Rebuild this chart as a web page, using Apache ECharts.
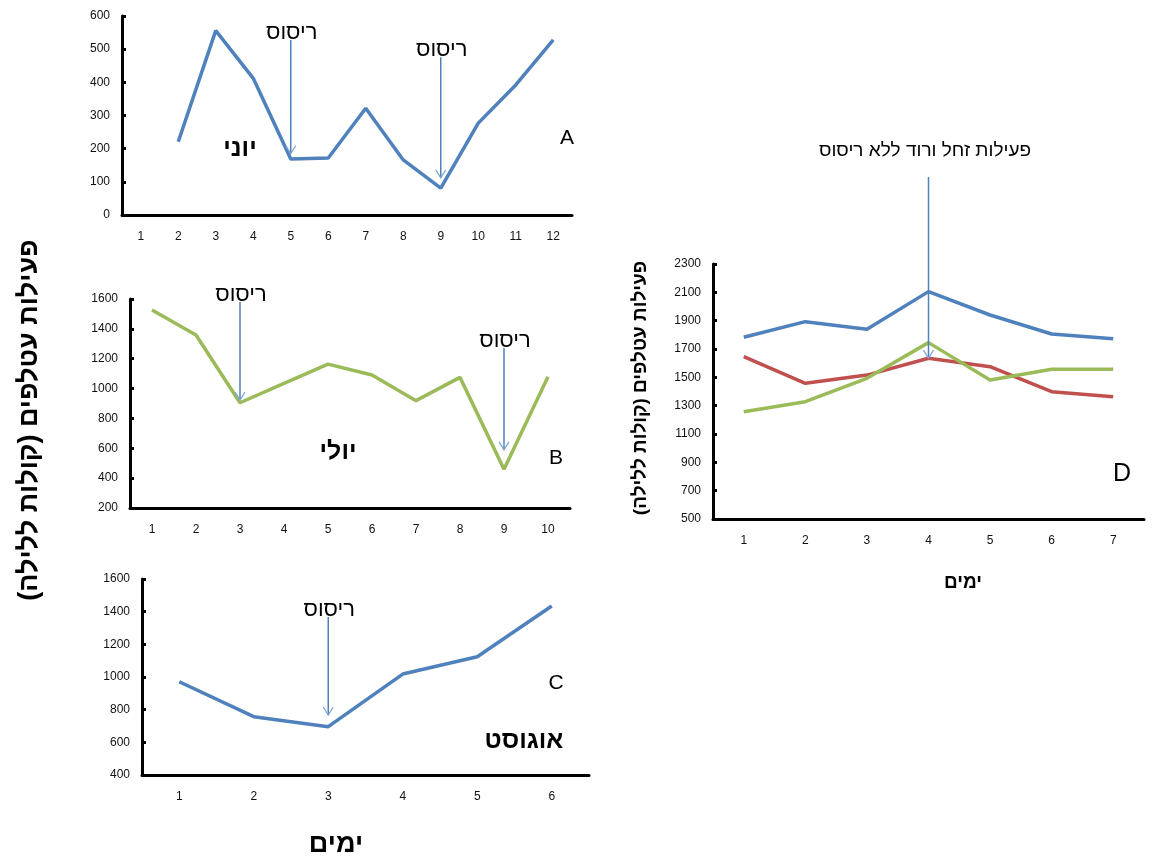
<!DOCTYPE html>
<html><head><meta charset="utf-8">
<script src="https://cdn.jsdelivr.net/npm/echarts@6/dist/echarts.min.js"></script>
<style>html,body{margin:0;padding:0;background:#fff}#c{width:1171px;height:858px}</style>
</head><body><div id="c"></div><script>
// ---- data ----
const daysA = ['1','2','3','4','5','6','7','8','9','10','11','12'];
const juneA = [null,221,556,412,169,172,322,166,81,277,392,528];
const yTicksA = [0,100,200,300,400,500,600];

const daysB = ['1','2','3','4','5','6','7','8','9','10'];
const julyB = [1526,1359,905,1035,1164,1091,919,1075,459,1079];
const yTicksB = [200,400,600,800,1000,1200,1400,1600];

const daysC = ['1','2','3','4','5','6'];
const augC = [971,757,696,1018,1124,1435];
const yTicksC = [400,600,800,1000,1200,1400,1600];

const daysD = ['1','2','3','4','5','6','7'];
const dBlue = [1783,1893,1839,2105,1940,1806,1773];
const dRed = [1646,1458,1516,1635,1575,1399,1363];
const dGreen = [1257,1328,1493,1745,1481,1557,1557];
const yTicksD = [500,700,900,1100,1300,1500,1700,1900,2100,2300];

// spraying arrows: grid index, category, value at top, value at tip
const sprayArrows = [
  {g:0, cat:'5', from:528, to:185},
  {g:0, cat:'9', from:476, to:112},
  {g:1, cat:'3', from:1580, to:923},
  {g:1, cat:'9', from:1272, to:589},
  {g:2, cat:'3', from:1367, to:767},
  {g:3, cat:'4', from:2914, to:1636}
];

const FONT = '"Liberation Sans", Arial, "DejaVu Sans", sans-serif';
const RLM = '\u200F';
const blue = '#4F81BD', red = '#C0504D', green = '#9BBB59';

const grids = [
  {left:122, top:16, width:450, height:199},
  {left:130, top:299, width:440, height:209},
  {left:142, top:579, width:447, height:196},
  {left:713, top:264, width:431, height:255}
];
const cats = [daysA, daysB, daysC, daysD];
const yt = [yTicksA, yTicksB, yTicksC, yTicksD];

function xAx(i){
  return {type:'category', gridIndex:i, data:cats[i], boundaryGap:true,
    axisLine:{lineStyle:{color:'#000', width:3}},
    axisTick:{alignWithLabel:true, inside:true, length:4, lineStyle:{color:'#000', width:3}},
    axisLabel:{margin:16, color:'#111', fontSize:12, fontFamily:FONT}};
}
function yAx(i){
  const t = yt[i];
  return {type:'value', gridIndex:i, min:t[0], max:t[t.length-1], interval:t[1]-t[0],
    axisLine:{show:true, lineStyle:{color:'#000', width:3}},
    axisTick:{show:true, inside:true, length:4, lineStyle:{color:'#000', width:3}},
    splitLine:{show:false},
    axisLabel:{margin:12, color:'#111', fontSize:12, fontFamily:FONT, formatter: v => String(v)}};
}
function ser(i, data, color){
  return {type:'line', xAxisIndex:i, yAxisIndex:i, data:data, symbol:'none',
    lineStyle:{color:color, width:3.5}, itemStyle:{color:color}, connectNulls:false, silent:true, animation:false};
}

const chart = echarts.init(document.getElementById('c'), null, {renderer:'canvas'});
chart.setOption({
  animation:false,
  backgroundColor:'#fff',
  grid: grids,
  xAxis: [0,1,2,3].map(xAx),
  yAxis: [0,1,2,3].map(yAx),
  series: [
    ser(0, juneA, blue),
    ser(1, julyB, green),
    ser(2, augC, blue),
    ser(3, dBlue, blue),
    ser(3, dRed, red),
    ser(3, dGreen, green)
  ]
});

function txt(text, x, y, size, opts){
  opts = opts || {};
  return {type:'text', x:x, y:y, rotation:opts.rot||0, z:10,
    style:{text:text, font:(opts.bold?'bold ':'')+size+'px '+FONT, fill:'#000',
      align:'center', verticalAlign:'middle'}};
}

const g = [];
sprayArrows.forEach(a => {
  const p1 = chart.convertToPixel({gridIndex:a.g}, [a.cat, a.from]);
  const p2 = chart.convertToPixel({gridIndex:a.g}, [a.cat, a.to]);
  const x = p1[0];
  g.push({type:'line', z:9, shape:{x1:x, y1:p1[1], x2:x, y2:p2[1]}, style:{stroke:blue, lineWidth:1.5}});
  g.push({type:'polyline', z:9, shape:{points:[[x-5,p2[1]-8],[x,p2[1]],[x+5,p2[1]-8]]}, style:{stroke:'#7FA3D4', lineWidth:1.2, fill:null}});
  if (a.g !== 3) g.push(txt('ריסוס', x+1, p1[1]-7, 22));
});

g.push(txt('יוני', 240, 149, 25, {bold:true}));
g.push(txt('A', 567, 138, 21));
g.push(txt('יולי', 338, 452, 25, {bold:true}));
g.push(txt('B', 556, 458, 21));
g.push(txt('C', 556, 683, 21));
g.push(txt('אוגוסט', 524, 741, 25, {bold:true}));
g.push(txt('D', 1122, 474, 25));
g.push(txt('פעילות זחל ורוד ללא ריסוס', 925, 151, 19));
g.push(txt('ימים', 336, 845, 27, {bold:true}));
g.push(txt('ימים', 963, 583, 19, {bold:true}));
g.push(txt('פעילות עטלפים (קולות ללילה)' + RLM, 30, 420, 27, {bold:true, rot:Math.PI/2}));
g.push(txt('פעילות עטלפים (קולות ללילה)' + RLM, 641, 388, 19, {bold:true, rot:Math.PI/2}));

chart.setOption({graphic: g});
</script></body></html>
